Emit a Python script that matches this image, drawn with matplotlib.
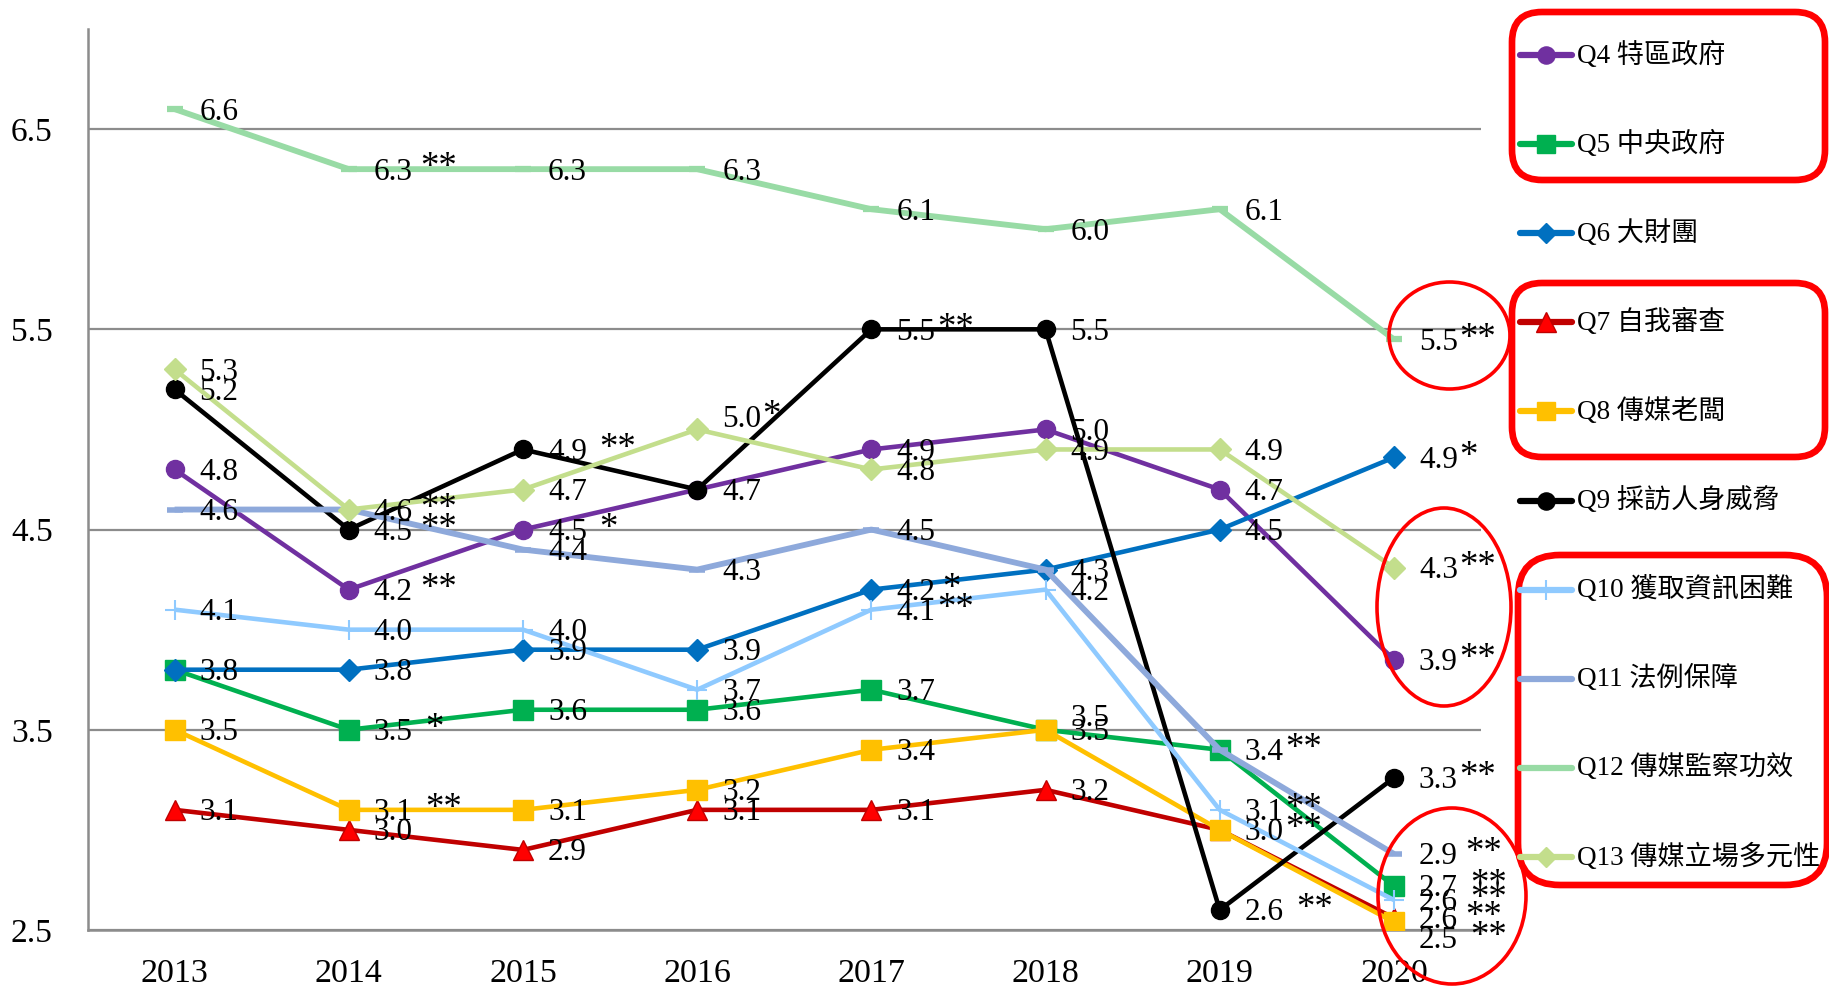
import matplotlib
matplotlib.use("Agg")
import matplotlib.pyplot as plt
from matplotlib.patches import Ellipse, FancyBboxPatch
from matplotlib.lines import Line2D
from matplotlib.font_manager import FontProperties

years = [2013, 2014, 2015, 2016, 2017, 2018, 2019, 2020]

q4 = [4.8, 4.2, 4.5, 4.7, 4.9, 5.0, 4.7, 3.85]
q5 = [3.8, 3.5, 3.6, 3.6, 3.7, 3.5, 3.4, 2.72]
q6 = [3.8, 3.8, 3.9, 3.9, 4.2, 4.3, 4.5, 4.86]
q7 = [3.1, 3.0, 2.9, 3.1, 3.1, 3.2, 3.0, 2.56]
q8 = [3.5, 3.1, 3.1, 3.2, 3.4, 3.5, 3.0, 2.54]
q9 = [5.2, 4.5, 4.9, 4.7, 5.5, 5.5, 2.6, 3.26]
q10 = [4.1, 4.0, 4.0, 3.7, 4.1, 4.2, 3.1, 2.65]
q11 = [4.6, 4.6, 4.4, 4.3, 4.5, 4.3, 3.4, 2.88]
q12 = [6.6, 6.3, 6.3, 6.3, 6.1, 6.0, 6.1, 5.45]
q13 = [5.3, 4.6, 4.7, 5.0, 4.8, 4.9, 4.9, 4.31]

q4_lbl = ["4.8", "4.2 **", "4.5  *", "", "4.9", "5.0", "4.7", "3.9**"]
q5_lbl = ["3.8", "3.5  *", "3.6", "3.6", "3.7", "3.5", "3.4**", "2.7  **"]
q6_lbl = ["", "3.8", "3.9", "3.9", "4.2 *", "4.3", "4.5", "4.9*"]
q7_lbl = ["3.1", "3.0", "2.9", "3.1", "3.1", "3.2", "", "2.6 **"]
q8_lbl = ["3.5", "3.1  **", "3.1", "3.2", "3.4", "3.5", "3.0**", "2.5  **"]
q9_lbl = ["5.2", "4.5 **", "4.9  **", "4.7", "5.5**", "5.5", "2.6  **", "3.3**"]
q10_lbl = ["4.1", "4.0", "4.0", "3.7", "4.1**", "4.2", "3.1**", "2.6  **"]
q11_lbl = ["4.6", "", "4.4", "4.3", "4.5", "", "", "2.9 **"]
q12_lbl = ["6.6", "6.3 **", "6.3", "6.3", "6.1", "6.0", "6.1", "5.5**"]
q13_lbl = ["5.3", "4.6 **", "4.7", "5.0*", "4.8", "4.9", "4.9", "4.3**"]

names = ["Q4 特區政府", "Q5 中央政府", "Q6 大財團", "Q7 自我審查", "Q8 傳媒老闆",
         "Q9 採訪人身威脅", "Q10 獲取資訊困難", "Q11 法例保障", "Q12 傳媒監察功效",
         "Q13 傳媒立場多元性"]

yticks = [2.5, 3.5, 4.5, 5.5, 6.5]

series = [
    (q4, q4_lbl, dict(color="#7030A0", marker="o", ms=13, mfc="#7030A0", mec="#7030A0")),
    (q5, q5_lbl, dict(color="#00B050", marker="s", ms=14, mfc="#00B050", mec="#00B050")),
    (q6, q6_lbl, dict(color="#0070C0", marker="D", ms=11, mfc="#0070C0", mec="#0070C0")),
    (q7, q7_lbl, dict(color="#C00000", marker="^", ms=15, mfc="#FF0000", mec="#C00000", mew=1)),
    (q8, q8_lbl, dict(color="#FFC000", marker="s", ms=14, mfc="#FFC000", mec="#FFC000")),
    (q9, q9_lbl, dict(color="#000000", marker="o", ms=13, mfc="#000000", mec="#000000")),
    (q10, q10_lbl, dict(color="#8FCAFF", marker="+", ms=15, mfc="#8FCAFF", mec="#8FCAFF", mew=1.5)),
    (q11, q11_lbl, dict(color="#8EA9DB", marker="_", ms=12, mec="#8EA9DB", mew=4)),
    (q12, q12_lbl, dict(color="#98DBA5", marker="_", ms=12, mec="#98DBA5", mew=4.5)),
    (q13, q13_lbl, dict(color="#C3DE8C", marker="D", ms=11, mfc="#C3DE8C", mec="#C3DE8C")),
]

# label nudges (series index, year) -> vertical shift in points
nudge = {(4, 2020): -11, (4, 2018): 10, (9, 2016): 9}

W, H = 1829, 988
fig = plt.figure(figsize=(W / 100, H / 100), dpi=100)
ax = fig.add_axes([87.5 / W, 1 - 930 / H, (1481 - 87.5) / W, (930 - 29) / H])
renderer = fig.canvas.get_renderer()

serif = ["Liberation Serif", "DejaVu Serif"]
LFS = 22.5
fp = FontProperties(family=serif, size=LFS)

for i, (vals, lbls, st) in enumerate(series):
    lw = 4.2 if st["color"] in ("#98DBA5", "#8EA9DB") else 3.3
    ax.plot(years, vals, lw=lw, zorder=3 + i * 0.1, solid_capstyle="butt", **st)
    for x, y, t in zip(years, vals, lbls):
        if not t:
            continue
        num = t.rstrip("* ")
        rest = t[len(num):]
        nsp = len(rest) - len(rest.lstrip(" "))
        stars = rest.strip()
        dy = -7.5 + nudge.get((i, x), 0)
        ax.annotate(num, (x, y), xytext=(18, dy), textcoords="offset points",
                    ha="left", va="baseline", fontsize=LFS, family=serif,
                    color="black", zorder=10)
        if stars:
            wpx, _, _ = renderer.get_text_width_height_descent(num, fp, ismath=False)
            gap = 1.0 + 4.0 * nsp
            ax.annotate(stars, (x, y),
                        xytext=(18 + wpx * 72 / 100 + gap, dy + 1.5),
                        textcoords="offset points", ha="left", va="baseline",
                        fontsize=LFS + 4, family=serif, color="black", zorder=10)

ax.set_xlim(2012.5, 2020.5)
ax.set_ylim(2.5, 7.0)
ax.set_xticks(years)
ax.set_xticklabels([str(y) for y in years], fontsize=24.5, family=serif)
ax.set_yticks(yticks)
ax.set_yticklabels([f"{v:.1f}" for v in yticks], fontsize=24, family=serif)
ax.tick_params(axis="both", length=0)
ax.tick_params(axis="y", pad=25)
ax.tick_params(axis="x", pad=20.5)
ax.yaxis.grid(True, color="#8C8C8C", lw=1.6)
ax.set_axisbelow(True)
for s in ("top", "right"):
    ax.spines[s].set_visible(False)
for s in ("left", "bottom"):
    ax.spines[s].set_color("#8C8C8C")
    ax.spines[s].set_linewidth(1.8)

# overlay in pixel coordinates for legend and annotations
ov = fig.add_axes([0, 0, 1, 1], zorder=20)
ov.set_xlim(0, W)
ov.set_ylim(H, 0)
ov.axis("off")
ov.patch.set_alpha(0)

leg_y0, leg_dy = 55, 89.1
for i, (name, (vals, lbls, st)) in enumerate(zip(names, series)):
    y = leg_y0 + i * leg_dy
    ln = Line2D([1520, 1572], [y, y], color=st["color"], lw=4.5, solid_capstyle="round")
    ov.add_line(ln)
    if st["marker"] != "_":
        mk = Line2D([1546], [y], marker=st["marker"], ms=st["ms"] * 0.95,
                    mfc=st.get("mfc", st["color"]), mec=st.get("mec", st["color"]),
                    mew=st.get("mew", 1), ls="none")
        ov.add_line(mk)
    ov.text(1577, y, name, fontsize=19.5, va="center", ha="left",
            family=["Liberation Serif", "Noto Sans CJK TC"])

red = "#FF0000"
boxes = [(1512, 12, 313, 168, 30), (1512, 283, 313, 174, 30), (1518, 555, 309, 330, 42)]
for (x0, y0, w, h, r) in boxes:
    ov.add_patch(FancyBboxPatch((x0, y0), w, h,
                                boxstyle=f"round,pad=0,rounding_size={r}",
                                fill=False, ec=red, lw=4.8))
ellipses = [(1449.5, 335.5, 121, 107), (1444, 607, 134, 198), (1452, 896, 148, 176)]
for (cx, cy, w, h) in ellipses:
    ov.add_patch(Ellipse((cx, cy), w, h, fill=False, ec=red, lw=2.6))

fig.savefig("out.png", dpi=100)
